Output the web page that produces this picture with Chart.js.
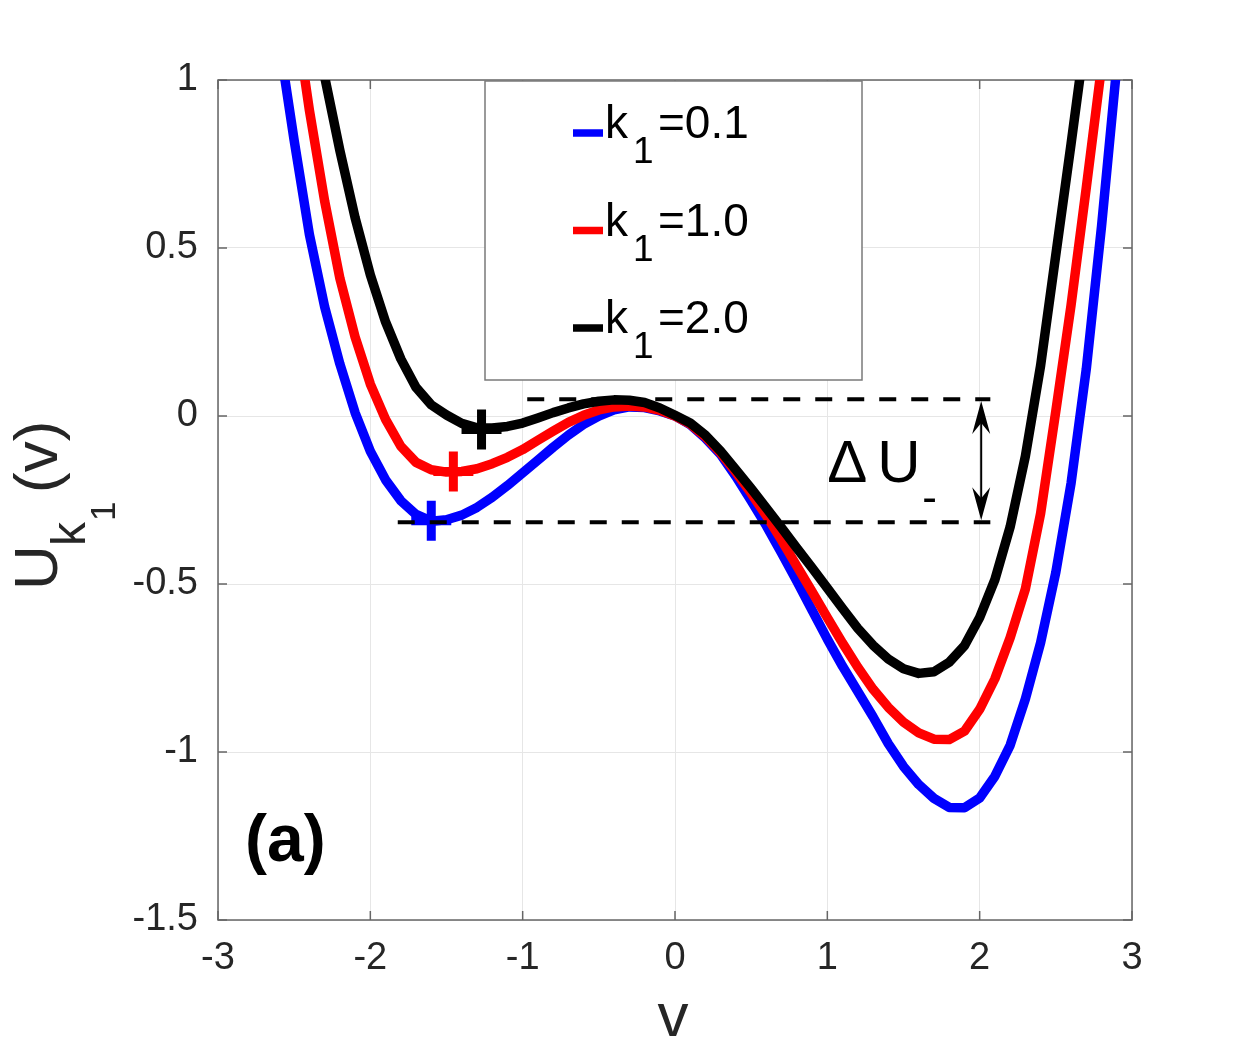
<!DOCTYPE html>
<html>
<head>
<meta charset="utf-8">
<script src="https://cdn.jsdelivr.net/npm/chart.js@4.4.1/dist/chart.umd.min.js"></script>
<style>
  html, body { margin: 0; padding: 0; background: #fff; }
</style>
</head>
<body>
<canvas id="chart" width="1251" height="1051"></canvas>
<script>
// v grid shared by the three potentials
const vGrid = [
  -2.6, -2.5, -2.4, -2.3, -2.2, -2.1, -2.0, -1.9, -1.8, -1.7,
  -1.6, -1.5, -1.4, -1.3, -1.2, -1.1, -1.0, -0.9, -0.8, -0.7,
  -0.6, -0.5, -0.4, -0.3, -0.2, -0.1, 0.0, 0.1, 0.2, 0.3,
  0.4, 0.5, 0.6, 0.7, 0.8, 0.9, 1.0, 1.1, 1.2, 1.3,
  1.4, 1.5, 1.6, 1.7, 1.8, 1.9, 2.0, 2.1, 2.2, 2.3,
  2.4, 2.5, 2.6, 2.7, 2.8, 2.9, 3.0
];

// U_k1(v)
const uK01 = [
  1.12, 0.82, 0.54, 0.325, 0.155, 0.01, -0.105, -0.19, -0.252, -0.293,
  -0.313, -0.309, -0.295, -0.272, -0.242, -0.207, -0.169, -0.131, -0.093, -0.057,
  -0.025, 0.0, 0.018, 0.027, 0.025, 0.015, 0.0, -0.026, -0.066, -0.115,
  -0.18, -0.252, -0.327, -0.408, -0.492, -0.578, -0.664, -0.745, -0.82, -0.895,
  -0.975, -1.043, -1.097, -1.138, -1.165, -1.166, -1.137, -1.072, -0.98, -0.842,
  -0.675, -0.465, -0.2, 0.14, 0.565, 1.04, 1.6
];
const uK10 = [
  null, 1.22, 0.91, 0.64, 0.41, 0.235, 0.095, -0.01, -0.09, -0.138,
  -0.16, -0.167, -0.165, -0.157, -0.142, -0.123, -0.1, -0.072, -0.045, -0.019,
  0.002, 0.018, 0.027, 0.03, 0.027, 0.017, 0.0, -0.024, -0.062, -0.11,
  -0.168, -0.23, -0.297, -0.37, -0.447, -0.523, -0.6, -0.676, -0.748, -0.813,
  -0.867, -0.911, -0.943, -0.962, -0.963, -0.938, -0.873, -0.782, -0.66, -0.515,
  -0.29, 0.015, 0.33, 0.68, 1.04, null, null
];
const uK20 = [
  null, null, 1.25, 1.01, 0.79, 0.59, 0.42, 0.28, 0.17, 0.085,
  0.033, 0.003, -0.022, -0.035, -0.036, -0.031, -0.021, -0.006, 0.01, 0.024,
  0.036, 0.044, 0.048, 0.047, 0.04, 0.024, 0.002, -0.021, -0.057, -0.105,
  -0.16, -0.216, -0.274, -0.333, -0.393, -0.452, -0.512, -0.573, -0.632, -0.682,
  -0.723, -0.752, -0.766, -0.761, -0.733, -0.684, -0.6, -0.487, -0.33, -0.12,
  0.15, 0.48, 0.81, 1.15, null, null, null
];

const seriesLabels = ["0.1", "1.0", "2.0"];
const seriesColors = ["#0000ff", "#ff0000", "#000000"];

// left-well minima (+ markers)
const minV = [-1.6, -1.455, -1.27];
const minU = [-0.312, -0.165, -0.04];

// dashed levels for the barrier height
const barrierV = [-0.97, 2.07];
const barrierU = [0.05, 0.05];
const wellV = [-1.82, 2.07];
const wellU = [-0.316, -0.316];
const arrowV = 2.01;
const arrowU = [0.045, -0.31];

const xTicks = [-3, -2, -1, 0, 1, 2, 3];
const yTicks = [-1.5, -1, -0.5, 0, 0.5, 1];

const FONT = "'Liberation Sans', Arial, Helvetica, sans-serif";
Chart.defaults.font.family = FONT;

const curveSets = [uK01, uK10, uK20].map((u, i) => ({
  label: "k1=" + seriesLabels[i],
  data: vGrid.map((v, j) => ({ x: v, y: u[j] })),
  borderColor: seriesColors[i],
  borderWidth: 9.5,
  borderJoinStyle: "round",
  pointRadius: 0,
  tension: 0,
  clip: 0,
  order: 4 - i,
}));

const markerSets = minV.map((v, i) => ({
  label: "min " + seriesLabels[i],
  data: [{ x: v, y: minU[i] }],
  showLine: false,
  pointStyle: "cross",
  pointRadius: 20,
  pointBorderWidth: 9,
  pointBorderColor: seriesColors[i],
  borderColor: seriesColors[i],
  order: 1,
}));

const dashSet = (vs, us, name) => ({
  label: name,
  data: vs.map((v, j) => ({ x: v, y: us[j] })),
  borderColor: "#000",
  borderWidth: 4,
  borderDash: [17, 15],
  pointRadius: 0,
  order: 0,
});

const decor = {
  id: "decor",
  beforeDatasetsDraw(chart) {
    const { ctx, chartArea: a, scales: { x, y } } = chart;
    ctx.save();
    ctx.strokeStyle = "#666";
    ctx.lineWidth = 1.5;
    ctx.strokeRect(a.left, a.top, a.right - a.left, a.bottom - a.top);
    ctx.beginPath();
    xTicks.forEach((v) => {
      const p = x.getPixelForValue(v);
      ctx.moveTo(p, a.bottom); ctx.lineTo(p, a.bottom - 9);
      ctx.moveTo(p, a.top); ctx.lineTo(p, a.top + 9);
    });
    yTicks.forEach((u) => {
      const p = y.getPixelForValue(u);
      ctx.moveTo(a.left, p); ctx.lineTo(a.left + 9, p);
      ctx.moveTo(a.right, p); ctx.lineTo(a.right - 9, p);
    });
    ctx.stroke();
    ctx.restore();
  },
  afterDatasetsDraw(chart) {
    const { ctx, chartArea: a, scales: { x, y } } = chart;
    ctx.save();

    // double arrow between the dashed levels
    const ax = x.getPixelForValue(arrowV);
    const top = y.getPixelForValue(arrowU[0]);
    const bot = y.getPixelForValue(arrowU[1]);
    ctx.strokeStyle = "#000";
    ctx.fillStyle = "#000";
    ctx.lineWidth = 2;
    ctx.beginPath();
    ctx.moveTo(ax, top + 20); ctx.lineTo(ax, bot - 20);
    ctx.stroke();
    const head = (tipY, dir) => {
      ctx.beginPath();
      ctx.moveTo(ax, tipY);
      ctx.lineTo(ax - 9, tipY + dir * 33);
      ctx.lineTo(ax, tipY + dir * 22);
      ctx.lineTo(ax + 9, tipY + dir * 33);
      ctx.closePath();
      ctx.fill();
    };
    head(top, 1);
    head(bot, -1);

    // Delta U_-
    const tx = x.getPixelForValue(1.0);
    const ty = y.getPixelForValue(-0.196);
    ctx.textAlign = "left";
    ctx.textBaseline = "alphabetic";
    ctx.font = "60px " + FONT;
    ctx.fillText("\u0394", tx, ty);
    ctx.fillText("U", tx + 50, ty);
    ctx.font = "44px " + FONT;
    ctx.fillText("-", tx + 95, ty + 30);

    // legend
    const lx = a.left + 267, ly = a.top + 1, lw = 377, lh = 299;
    ctx.fillStyle = "#fff";
    ctx.fillRect(lx, ly, lw, lh);
    ctx.strokeStyle = "#7a7a7a";
    ctx.lineWidth = 1.5;
    ctx.strokeRect(lx, ly, lw, lh);
    seriesLabels.forEach((lab, i) => {
      const cy = ly + 52 + i * 97.5;
      ctx.strokeStyle = seriesColors[i];
      ctx.lineWidth = 7.5;
      ctx.lineCap = "butt";
      ctx.beginPath();
      ctx.moveTo(lx + 88, cy); ctx.lineTo(lx + 118, cy);
      ctx.stroke();
      const base = cy + 5;
      ctx.fillStyle = "#000";
      ctx.font = "46px " + FONT;
      ctx.fillText("k", lx + 120, base);
      ctx.font = "37px " + FONT;
      ctx.fillText("1", lx + 148, base + 25);
      ctx.font = "46px " + FONT;
      ctx.fillText("=" + lab, lx + 173, base);
    });

    // panel tag
    ctx.fillStyle = "#000";
    ctx.font = "bold 66px " + FONT;
    ctx.fillText("(a)", a.left + 27, a.bottom - 59);
    ctx.restore();
  },
  afterDraw(chart) {
    const { ctx, chartArea: a } = chart;
    ctx.save();
    ctx.fillStyle = "#262626";
    ctx.textBaseline = "alphabetic";

    // x title
    ctx.textAlign = "center";
    ctx.font = "62px " + FONT;
    ctx.fillText("v", (a.left + a.right) / 2 - 2, 1036);

    // y title U_{k_1}(v), rotated; rotated coords are (-screenY, screenX)
    ctx.textAlign = "left";
    ctx.save();
    ctx.rotate(-Math.PI / 2);
    ctx.font = "62px " + FONT;
    ctx.fillText("U", -590, 57);
    ctx.font = "48px " + FONT;
    ctx.fillText("k", -546, 85);
    ctx.font = "35px " + FONT;
    ctx.fillText("1", -521, 115);
    ctx.font = "62px " + FONT;
    ctx.fillText("(v)", -493, 57);
    ctx.restore();
    ctx.restore();
  },
};

new Chart(document.getElementById("chart"), {
  type: "line",
  data: {
    datasets: [
      ...curveSets,
      ...markerSets,
      dashSet(barrierV, barrierU, "barrier"),
      dashSet(wellV, wellU, "well"),
    ],
  },
  options: {
    responsive: false,
    animation: false,
    devicePixelRatio: 1,
    events: [],
    layout: { padding: { top: 80, right: 119, bottom: 0, left: 0 } },
    plugins: {
      legend: { display: false },
      tooltip: { enabled: false },
    },
    scales: {
      x: {
        type: "linear",
        min: -3,
        max: 3,
        afterBuildTicks: (s) => { s.ticks = xTicks.map((v) => ({ value: v })); },
        afterFit: (s) => { s.height = 131; },
        grid: { color: "#e6e6e6", lineWidth: 1, drawTicks: false },
        border: { display: false },
        ticks: {
          padding: 16,
          color: "#262626",
          font: { size: 38 },
          maxRotation: 0,
          callback: (v) => String(v),
        },
      },
      y: {
        type: "linear",
        min: -1.5,
        max: 1,
        afterBuildTicks: (s) => { s.ticks = yTicks.map((v) => ({ value: v })); },
        afterFit: (s) => { s.width = 218; },
        grid: { color: "#e6e6e6", lineWidth: 1, drawTicks: false },
        border: { display: false },
        ticks: {
          padding: 20,
          color: "#262626",
          font: { size: 38 },
          callback: (v) => String(v),
        },
      },
    },
  },
  plugins: [decor],
});
</script>
</body>
</html>
